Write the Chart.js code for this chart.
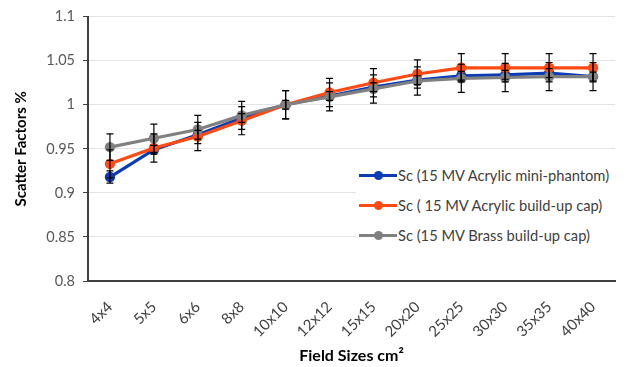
<!DOCTYPE html>
<html lang="en">
<head>
<meta charset="UTF-8">
<title>Scatter Factors</title>
<style>
    body {
        margin: 0;
        background: #ffffff;
        font-family: Lato, "Liberation Sans", Arial, sans-serif;
    }
    .wrap {
        position: relative;
        width: 628px;
        height: 367px;
    }
    .legend {
        position: absolute;
        left: 356px;
        top: 162px;
        width: 259px;
        height: 92px;
        background: #ffffff;
    }
    .legend .item {
        position: absolute;
        left: 3px;
        height: 20px;
        display: flex;
        align-items: center;
        font-size: 14.7px;
        color: #404040;
        white-space: nowrap;
    }
    .legend .mark {
        position: relative;
        width: 38px;
        height: 20px;
        margin-right: 1px;
    }
    .legend .mark .ln {
        position: absolute;
        left: 0; right: 0; top: 8.5px;
        height: 3px;
    }
    .legend .mark .dot {
        position: absolute;
        left: 14.5px; top: 5.5px;
        width: 9px; height: 9px;
        border-radius: 50%;
    }
</style>
<script src="https://cdn.jsdelivr.net/npm/chart.js"></script>
</head>
<body>
<div class="wrap">
    <canvas id="chart" width="628" height="367"></canvas>
    <div class="legend" id="legend"></div>
</div>

<script>
// data
const fieldSizes = ['4x4', '5x5', '6x6', '8x8', '10x10', '12x12', '15x15', '20x20', '25x25', '30x30', '35x35', '40x40'];

const acrylicMini = [0.918, 0.949, 0.966, 0.985, 1.0, 1.010, 1.020, 1.028, 1.033, 1.034, 1.036, 1.032];
const acrylicCap  = [0.933, 0.951, 0.964, 0.982, 1.0, 1.014, 1.025, 1.035, 1.042, 1.042, 1.042, 1.042];
const brassCap    = [0.952, 0.962, 0.972, 0.988, 1.0, 1.009, 1.018, 1.027, 1.030, 1.031, 1.032, 1.032];

const acrylicMiniErr = [0.007, 0.005, 0.005, 0.005, 0.005, 0.005, 0.005, 0.005, 0.005, 0.005, 0.005, 0.005];
const acrylicCapErr  = [0.016, 0.016, 0.016, 0.016, 0.016, 0.016, 0.016, 0.016, 0.016, 0.016, 0.016, 0.016];
const brassCapErr    = [0.015, 0.016, 0.016, 0.016, 0.016, 0.016, 0.016, 0.016, 0.016, 0.016, 0.016, 0.016];

const seriesNames = ['Sc (15 MV Acrylic mini-phantom)', 'Sc ( 15 MV Acrylic build-up cap)', 'Sc (15 MV Brass build-up cap)'];
const seriesColors = ['#0b3bb5', '#ff4a14', '#808080'];

const yTicks = [0.8, 0.85, 0.9, 0.95, 1, 1.05, 1.1];

const FONT = 'Lato, "Liberation Sans", Arial, sans-serif';

// black error bars with small caps
const errorBars = {
    id: 'errorBars',
    afterDatasetsDraw(chart) {
        const ctx = chart.ctx;
        const y = chart.scales.y;
        ctx.save();
        ctx.strokeStyle = '#000000';
        ctx.lineWidth = 1.2;
        chart.data.datasets.forEach((ds, di) => {
            const meta = chart.getDatasetMeta(di);
            ds.errors.forEach((e, i) => {
                const pt = meta.data[i];
                const v = ds.data[i];
                const top = y.getPixelForValue(v + e);
                const bot = y.getPixelForValue(v - e);
                ctx.beginPath();
                ctx.moveTo(pt.x, top); ctx.lineTo(pt.x, bot);
                ctx.moveTo(pt.x - 3.5, top); ctx.lineTo(pt.x + 3.5, top);
                ctx.moveTo(pt.x - 3.5, bot); ctx.lineTo(pt.x + 3.5, bot);
                ctx.stroke();
            });
        });
        ctx.restore();
    }
};

function makeSet(i, data, errs, order) {
    return {
        label: seriesNames[i],
        data: data,
        errors: errs,
        borderColor: seriesColors[i],
        backgroundColor: seriesColors[i],
        borderWidth: 3.2,
        pointRadius: 5.2,
        pointBorderWidth: 0,
        pointHoverRadius: 5,
        tension: 0,
        order: order
    };
}

new Chart(document.getElementById('chart'), {
    type: 'line',
    data: {
        labels: fieldSizes,
        datasets: [
            makeSet(0, acrylicMini, acrylicMiniErr, 3),
            makeSet(1, acrylicCap, acrylicCapErr, 2),
            makeSet(2, brassCap, brassCapErr, 1)
        ]
    },
    options: {
        responsive: false,
        animation: false,
        layout: { padding: { top: 16, right: 13, bottom: 2, left: 0 } },
        plugins: {
            legend: { display: false },
            tooltip: { enabled: false }
        },
        scales: {
            x: {
                offset: true,
                grid: { display: false, drawOnChartArea: false },
                border: { display: true, color: '#404040', width: 2 },
                ticks: {
                    maxRotation: 45,
                    minRotation: 45,
                    color: '#404040',
                    font: { family: FONT, size: 15 },
                    padding: 9
                },
                title: {
                    display: true,
                    text: 'Field Sizes cm²',
                    color: '#000000',
                    font: { family: FONT, size: 16, weight: 'bold' },
                    padding: { top: 4, bottom: 0 }
                },
                afterFit(s) { s.height = 84; }
            },
            y: {
                min: 0.8,
                max: 1.1,
                afterBuildTicks(s) { s.ticks = yTicks.map(v => ({ value: v })); },
                grid: {
                    color: '#e3e3e3',
                    tickColor: '#404040',
                    tickLength: 5,
                    lineWidth: 1
                },
                border: { display: true, color: '#404040', width: 2 },
                ticks: {
                    color: '#595959',
                    font: { family: FONT, size: 14.5 },
                    padding: 8,
                    callback: v => String(+v.toFixed(2))
                },
                title: {
                    display: true,
                    text: 'Scatter Factors %',
                    color: '#000000',
                    font: { family: FONT, size: 15, weight: 'bold' },
                    padding: { top: 12, bottom: 4 }
                },
                afterFit(s) { s.width = 88; }
            }
        }
    },
    plugins: [errorBars]
});

// legend drawn over the plot on the right
const legend = document.getElementById('legend');
seriesNames.forEach((name, i) => {
    const item = document.createElement('div');
    item.className = 'item';
    item.style.top = (3 + i * 30) + 'px';
    item.innerHTML = '<span class="mark"><span class="ln" style="background:' + seriesColors[i] +
        '"></span><span class="dot" style="background:' + seriesColors[i] + '"></span></span>' +
        '<span>' + name + '</span>';
    legend.appendChild(item);
});
</script>
</body>
</html>
